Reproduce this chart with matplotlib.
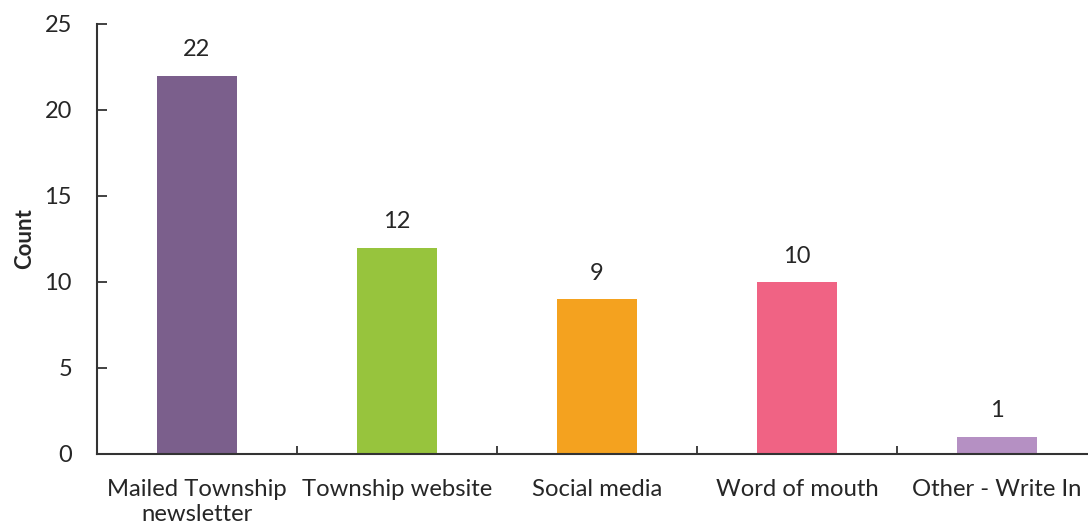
import matplotlib.pyplot as plt
import numpy as np

categories = ['Mailed Township\nnewsletter', 'Township website', 'Social media',
              'Word of mouth', 'Other - Write In']
counts = [22, 12, 9, 10, 1]
colors = ['#7B5F8C', '#97C43D', '#F4A21F', '#F06384', '#B590C3']

plt.rcParams['font.family'] = ['Lato', 'DejaVu Sans']

fig = plt.figure(figsize=(10.88, 5.31), dpi=100)
ax = fig.add_axes([97/1088, 77/531, 1000/1088, 430/531])

x = np.arange(len(categories))
bars = ax.bar(x, counts, width=0.4, color=colors)
for xi, c in zip(x, counts):
    ax.text(xi, c + 0.9, str(c), ha='center', va='bottom', fontsize=17, color='#262626')

ax.set_xlim(-0.5, len(categories) - 0.5)
ax.set_ylim(0, 25)
ax.set_yticks([0, 5, 10, 15, 20, 25])
ax.set_xticks(x)
ax.set_xticklabels(categories, fontsize=17.2, color='#262626', linespacing=1.25)
ax.set_xticks(np.arange(0.5, len(categories) - 0.5), minor=True)
ax.tick_params(axis='x', which='major', length=0, pad=18)
ax.tick_params(axis='x', which='minor', direction='in', length=6, width=1.3, color='#333333')
ax.tick_params(axis='y', direction='in', length=7, width=1.3, color='#333333',
               labelsize=17, labelcolor='#262626', pad=18)
ax.set_ylabel('Count', fontsize=16, fontweight='bold', color='#262626', labelpad=7)

for s in ['top', 'right']:
    ax.spines[s].set_visible(False)
for s in ['left', 'bottom']:
    ax.spines[s].set_color('#333333')
    ax.spines[s].set_linewidth(1.5)

fig.savefig('out.png', dpi=100)
